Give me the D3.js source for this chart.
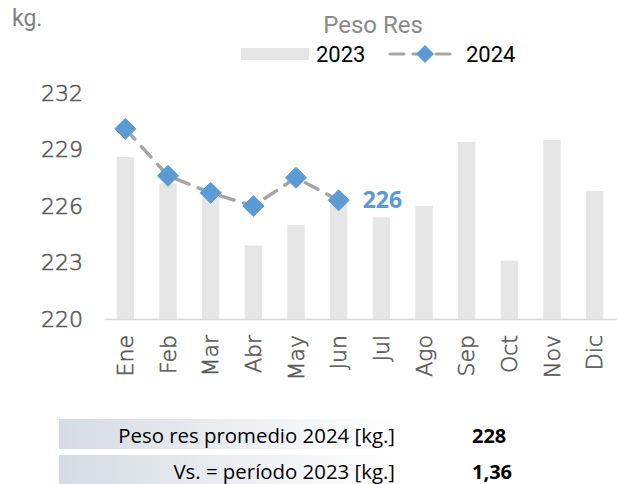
<!DOCTYPE html>
<html>
<head>
<meta charset="utf-8">
<script src="https://cdn.jsdelivr.net/npm/d3@7/dist/d3.min.js"></script>
<style>
  html, body { margin: 0; padding: 0; background: #fff; }
  svg { display: block; }
</style>
</head>
<body>
<svg id="chart" width="626" height="484"></svg>
<script>
var months = ['Ene', 'Feb', 'Mar', 'Abr', 'May', 'Jun', 'Jul', 'Ago', 'Sep', 'Oct', 'Nov', 'Dic']
var values2023 = [228.6, 227.2, 226.5, 223.9, 225.0, 226.1, 225.4, 226.0, 229.4, 223.1, 229.5, 226.8]
var values2024 = [230.1, 227.6, 226.7, 226.0, 227.5, 226.3]
var yTicks = [220, 223, 226, 229, 232]
var lastLabel = '226'
var summaryLabels = ['Peso res promedio 2024 [kg.]', 'Vs. = período 2023 [kg.]']
var summaryValues = ['228', '1,36']

var svg = d3.select('#chart')
var barColor = '#e7e6e6',
  blue = '#5b9bd5',
  dashGray = '#a5a5a5',
  tickFont = '"DejaVu Sans", sans-serif'

var x = d3.scaleBand().domain(months).range([104, 616]).paddingInner(0.59).paddingOuter(0.295)
var y = d3.scaleLinear().domain([220, 232]).range([319, 93])

// diamond = rotated square
function diamond(cx, cy, r) {
  return ['M', cx, cy - r, 'L', cx + r, cy, 'L', cx, cy + r, 'L', cx - r, cy, 'Z'].join(' ')
}

// thin face, thickened a bit with a stroke
function tickText(sel) {
  sel.attr('font-family', tickFont).attr('font-weight', 200)
    .attr('font-size', 22).attr('fill', '#595959')
    .attr('stroke', '#595959').attr('stroke-width', 0.6)
}

// header texts
svg.append('text').attr('x', 12).attr('y', 26)
  .attr('font-family', 'Roboto, sans-serif').attr('font-size', 23).attr('fill', '#7f7f7f')
  .text('kg.')
svg.append('text').attr('x', 373).attr('y', 33).attr('text-anchor', 'middle')
  .attr('font-family', 'Roboto, sans-serif').attr('font-size', 24).attr('fill', '#8a8a8a')
  .text('Peso Res')

// legend
var legend = svg.append('g')
legend.append('rect').attr('x', 241).attr('y', 48).attr('width', 68).attr('height', 12).attr('fill', barColor)
legend.append('text').attr('x', 316).attr('y', 62)
  .attr('font-family', 'Roboto, sans-serif').attr('font-size', 22).attr('fill', '#000').text('2023')
legend.append('line').attr('x1', 390).attr('x2', 458).attr('y1', 54).attr('y2', 54)
  .attr('stroke', dashGray).attr('stroke-width', 3).attr('stroke-linecap', 'round')
  .attr('stroke-dasharray', '14 9')
legend.append('path').attr('d', diamond(425, 54, 8.5)).attr('fill', blue)
  .attr('stroke', blue).attr('stroke-linejoin', 'round')
legend.append('text').attr('x', 466).attr('y', 62)
  .attr('font-family', 'Roboto, sans-serif').attr('font-size', 22).attr('fill', '#000').text('2024')

// y axis labels
var yAxis = svg.append('g').attr('transform', 'translate(83,0)')
  .call(d3.axisLeft(y).tickValues(yTicks).tickSize(0).tickPadding(0))
yAxis.select('.domain').remove()
yAxis.selectAll('text').call(tickText)

// bars 2023
svg.selectAll('rect.bar').data(values2023).enter()
  .append('rect')
  .attr('class', 'bar')
  .attr('x', function(d, i) { return x(months[i]) })
  .attr('y', function(d) { return y(d) })
  .attr('width', x.bandwidth())
  .attr('height', function(d) { return y(220) - y(d) })
  .attr('fill', barColor)

// x axis
var xAxis = svg.append('g').attr('transform', 'translate(0,' + y(220) + ')')
  .call(d3.axisBottom(x).tickSize(0).tickPadding(0))
xAxis.select('.domain').attr('stroke', '#d9d9d9').attr('stroke-width', 1.5)
xAxis.selectAll('text')
  .call(tickText)
  .attr('text-anchor', 'end')
  .attr('transform', 'translate(0,16) rotate(-90)')
  .attr('x', 0).attr('y', 0).attr('dy', '0.35em')

// line 2024
var line = d3.line()
  .x(function(d, i) { return x(months[i]) + x.bandwidth() / 2 })
  .y(function(d) { return y(d) })
svg.append('path').datum(values2024)
  .attr('d', line)
  .attr('fill', 'none')
  .attr('stroke', dashGray)
  .attr('stroke-width', 3.5)
  .attr('stroke-linecap', 'round')
  .attr('stroke-dasharray', '14 10')

svg.selectAll('path.marker').data(values2024).enter()
  .append('path')
  .attr('class', 'marker')
  .attr('d', function(d, i) { return diamond(x(months[i]) + x.bandwidth() / 2, y(d), 10.5) })
  .attr('fill', blue)
  .attr('stroke', blue)
  .attr('stroke-width', 1)
  .attr('stroke-linejoin', 'round')

var last = values2024.length - 1
svg.append('text')
  .attr('x', x(months[last]) + x.bandwidth() / 2 + 24)
  .attr('y', y(values2024[last]) + 8)
  .attr('font-family', '"Open Sans", sans-serif').attr('font-weight', 'bold')
  .attr('font-size', 23).attr('fill', blue)
  .text(lastLabel)

// summary table
var defs = svg.append('defs')
var grad = defs.append('linearGradient').attr('id', 'rowGrad')
grad.append('stop').attr('offset', '0%').attr('stop-color', '#d5dbe4')
grad.append('stop').attr('offset', '100%').attr('stop-color', '#ffffff')

var rowY = [419, 455]
summaryLabels.forEach(function(lbl, i) {
  svg.append('rect').attr('x', 59).attr('y', rowY[i]).attr('width', 337).attr('height', 30)
    .attr('fill', 'url(#rowGrad)')
  svg.append('text').attr('x', 395).attr('y', rowY[i] + 24).attr('text-anchor', 'end')
    .attr('font-family', '"Open Sans", sans-serif').attr('font-size', 20.4).attr('fill', '#000')
    .text(lbl)
  svg.append('text').attr('x', 472).attr('y', rowY[i] + 24)
    .attr('font-family', '"Open Sans", sans-serif').attr('font-weight', 'bold')
    .attr('font-size', 20).attr('fill', '#000')
    .text(summaryValues[i])
})
</script>
</body>
</html>
